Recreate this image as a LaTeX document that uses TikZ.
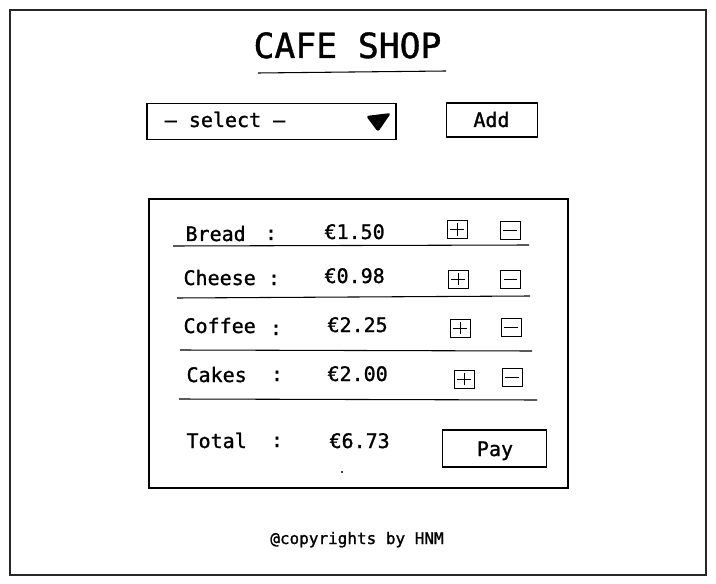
\documentclass[tikz,border=0pt]{standalone}
\usepackage{fontspec}
\setmainfont{DejaVu Sans Mono}[FakeBold=1.2]
\usetikzlibrary{positioning}

\begin{document}
\begin{tikzpicture}[x=0.75pt,y=-0.75pt,line width=0.8pt,
  every text node part/.style={align=center},
  txt/.style={font=\fontsize{15}{17}\selectfont,inner sep=0pt},
  btn/.style={draw,txt,minimum width=68pt,minimum height=25.5pt},
  pm/.style={draw,line width=0.7pt,inner sep=0pt,minimum width=15pt,minimum height=13.5pt},
  plusbox/.style={pm,path picture={
    \draw[line width=0.7pt] ([xshift=2.5pt]path picture bounding box.west) -- ([xshift=-2.5pt]path picture bounding box.east);
    \draw[line width=0.7pt] ([yshift=-2pt]path picture bounding box.north) -- ([yshift=2pt]path picture bounding box.south);}},
  minusbox/.style={pm,path picture={
    \draw[line width=0.7pt] ([xshift=2.5pt]path picture bounding box.west) -- ([xshift=-2.5pt]path picture bounding box.east);}}]
  \useasboundingbox (0,0) rectangle (716,584);

  % Frame and header
  \draw[line width=1.1pt,black!85] (10,10) rectangle (706,575);
  \node[font=\fontsize{26}{29}\selectfont,inner sep=0pt,anchor=base] (T0) at (347.5,58) {CAFE SHOP};
  \draw (258,73) to (446,71);
  \node[draw,minimum width=186.75pt,minimum height=27.5pt] (S1) at (271.5,121.5) {};
  \node[txt,anchor=base] (S1t) at (225,127) {— select —};
  \fill[rounded corners=2pt] (366,116) -- (391,113) -- (378,132) -- cycle;
  \node[btn] (A1) at (492,120) {};
  \node[txt,anchor=base] (A1t) at (491.5,127) {Add};

  % Order panel
  \draw (149,199) rectangle (568,488);

  \node[txt,anchor=base west] (B2) at (185,241) {Bread};
  \node[txt,anchor=base] (B2c) at (271,240) {:};
  \node[txt,anchor=base west] (B2p) at (324,239) {€1.50};
  \node[plusbox] (B2a) at (457,229.5) {};
  \node[minusbox] (B2m) at (510,230) {};
  \draw (173,246) to (529,245);

  \node[txt,anchor=base west] (C2) at (183,285) {Cheese};
  \node[txt,anchor=base] (C2c) at (274,285) {:};
  \node[txt,anchor=base west] (C2p) at (324,283) {€0.98};
  \node[plusbox] (C2a) at (458,279) {};
  \node[minusbox] (C2m) at (510.5,279) {};
  \draw (177,298) to (530,296);

  \node[txt,anchor=base west] (F2) at (183,333) {Coffee};
  \node[txt,anchor=base] (F2c) at (276,335) {:};
  \node[txt,anchor=base west] (F2p) at (327,332) {€2.25};
  \node[plusbox] (F2a) at (460,328) {};
  \node[minusbox] (F2m) at (511,327) {};
  \draw (180,350) to (532,351);

  \node[txt,anchor=base west] (K2) at (186,382) {Cakes};
  \node[txt,anchor=base] (K2c) at (277,381) {:};
  \node[txt,anchor=base west] (K2p) at (327,381) {€2.00};
  \node[plusbox] (K2a) at (464,379) {};
  \node[minusbox] (K2m) at (512,377.5) {};
  \draw (179,399) to (537,400);

  % Total and payment
  \node[txt,anchor=base west] (T3) at (186,448) {Total};
  \node[txt,anchor=base] (T3c) at (277,447) {:};
  \node[txt,anchor=base west] (T3p) at (329,448) {€6.73};
  \fill (342,472) circle (0.8pt);
  \node[btn,minimum width=78pt,minimum height=27.75pt] (P3) at (494.5,448.5) {};
  \node[txt,anchor=base] (P3t) at (495,456) {Pay};

  \node[font=\fontsize{12}{14}\selectfont,inner sep=0pt,anchor=base] (H4) at (357,544) {@copyrights by HNM};
\end{tikzpicture}
\end{document}
